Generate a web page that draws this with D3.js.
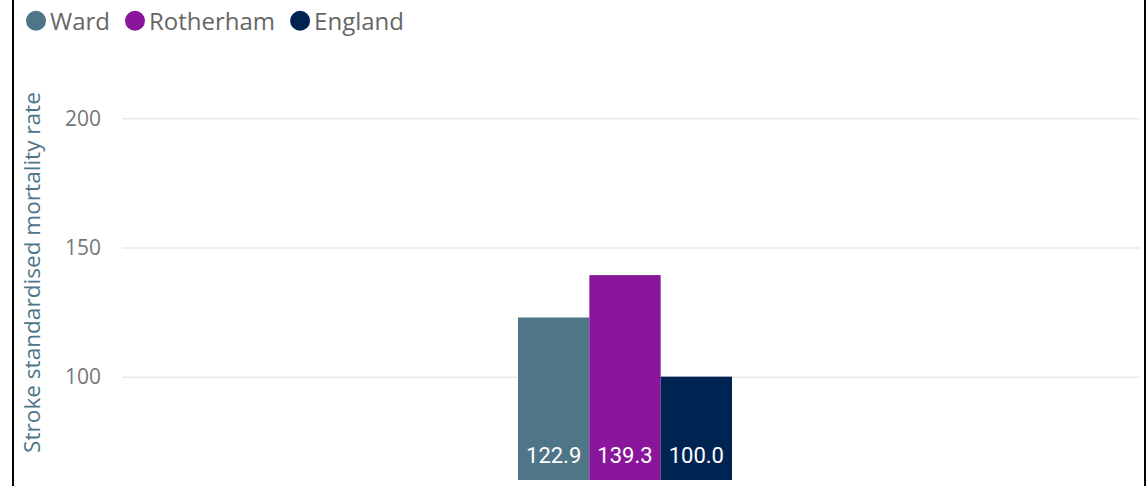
<!DOCTYPE html>
<html><head><meta charset="utf-8">
<script src="https://cdn.jsdelivr.net/npm/d3@7"></script>
<style>
html,body{margin:0;padding:0;background:#fff;}
svg{display:block;}
</style></head>
<body>
<svg id="chart" width="1147" height="486"></svg>
<script>
const categories = ["Stroke"];
const seriesNames = ["Ward", "Rotherham", "England"];
const seriesValues = [122.9, 139.3, 100.0];
const seriesColors = ["#4e7588", "#8a179b", "#002452"];
const yTicks = [100, 150, 200];
const yLabel = "Stroke standardised mortality rate";

const svg = d3.select("#chart");
const W = 1147, H = 486;
const plot = {left: 122, right: 1140, top: 0, bottom: 480};

const y = d3.scaleLinear().domain([60, 200]).range([480, 118.3]);
const x0 = d3.scaleBand().domain(categories).range([110, 1140]).paddingInner(0).paddingOuter(0);
const x1 = d3.scaleBand().domain(seriesNames).range([x0(categories[0]) + x0.bandwidth()/2 - 107, x0(categories[0]) + x0.bandwidth()/2 + 107]).padding(0);

// borders
svg.append("rect").attr("x", 12).attr("y", 0).attr("width", 2).attr("height", H).attr("fill", "#000");
svg.append("rect").attr("x", 1144).attr("y", 0).attr("width", 2).attr("height", H).attr("fill", "#000");

// gridlines + tick labels via axis
const axis = d3.axisLeft(y).tickValues(yTicks).tickSize(-(plot.right - plot.left)).tickPadding(21).tickFormat(d3.format("d"));
const gAxis = svg.append("g").attr("transform", `translate(${plot.left},0)`).call(axis);
gAxis.select(".domain").remove();
gAxis.selectAll(".tick line").attr("stroke", "#e9e9e9").attr("stroke-width", 1.5);
gAxis.selectAll(".tick text").attr("fill", "#777").style("font-family", "'Segoe UI','Open Sans',sans-serif").style("font-size", "21px");

// y label
svg.append("text").attr("transform", `translate(40,${(95+450)/2}) rotate(-90)`)
  .attr("text-anchor", "middle").attr("fill", "#4e7588")
  .style("font-family", "'Segoe UI','Open Sans',sans-serif").style("font-size", "22.6px")
  .text(yLabel);

// bars
const data = seriesNames.map((n, i) => ({name: n, value: seriesValues[i], color: seriesColors[i]}));
const gBars = svg.append("g");
gBars.selectAll("rect").data(data).join("rect")
  .attr("x", d => x1(d.name)).attr("width", x1.bandwidth())
  .attr("y", d => y(d.value)).attr("height", d => y(60) - y(d.value))
  .attr("fill", d => d.color);
gBars.selectAll("text").data(data).join("text")
  .attr("x", d => x1(d.name) + x1.bandwidth()/2).attr("y", 463.3)
  .attr("text-anchor", "middle").attr("fill", "#fff")
  .style("font-family", "'Liberation Sans Narrow','Roboto',sans-serif").style("font-size", "22px")
  .text(d => d3.format(".1f")(d.value));

// legend
const legend = svg.append("g");
let lx = 26;
data.forEach(d => {
  legend.append("circle").attr("cx", lx + 10).attr("cy", 20.7).attr("r", 10).attr("fill", d.color);
  const t = legend.append("text").attr("x", lx + 24).attr("y", 30)
    .attr("fill", "#666").style("font-family", "'Segoe UI','Open Sans',sans-serif").style("font-size", "24px")
    .text(d.name);
  lx += 24 + t.node().getComputedTextLength() + 15;
});
</script>
</body></html>
